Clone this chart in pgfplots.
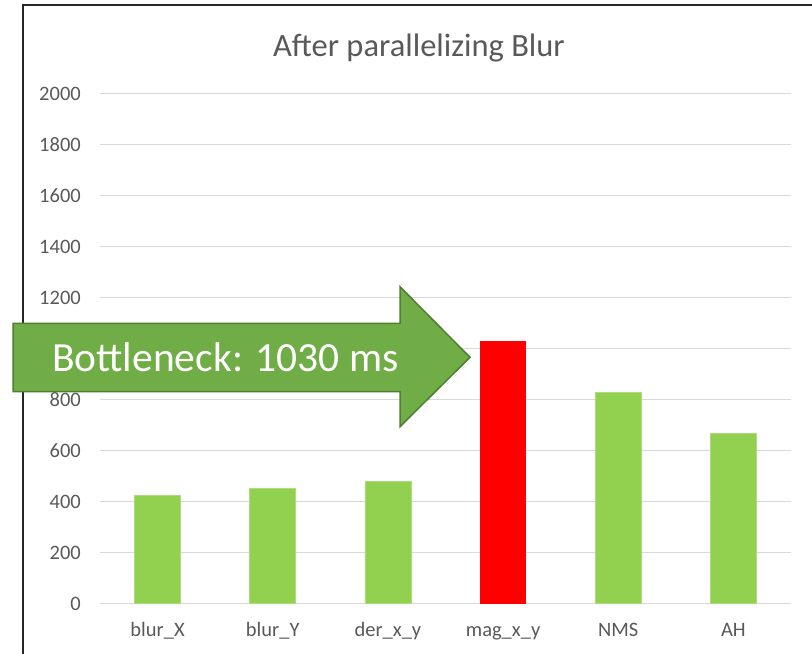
\documentclass[border=0pt]{standalone}
\usepackage{pgfplots}
\pgfplotsset{compat=1.18}
\usepackage{fontspec}
\setmainfont{Carlito}
\definecolor{barg}{HTML}{92D050}
\definecolor{barr}{HTML}{FF0000}
\definecolor{txt}{HTML}{595959}
\definecolor{gridc}{HTML}{D9D9D9}
\definecolor{arrf}{HTML}{70AD47}
\definecolor{arrd}{HTML}{507E32}
\begin{document}
\begin{tikzpicture}
\clip (0,0) rectangle (812bp,-654bp);
\fill[white] (0,0) rectangle (812bp,-654bp);
\draw[line width=1.5bp, black!85] (23bp,-680bp) -- (23bp,-5bp) -- (840bp,-5bp);
\begin{axis}[
  at={(100bp,-603.5bp)}, anchor=south west,
  scale only axis, width=691bp, height=510bp,
  xmin=-0.5, xmax=5.5, ymin=0, ymax=2000,
  ytick={0,200,...,2000},
  xtick={0,1,2,3,4,5},
  xticklabels={blur\_X, blur\_Y, der\_x\_y, mag\_x\_y, NMS, AH},
  axis line style={draw=none},
  major tick length=0pt,
  ymajorgrids, grid style={gridc, line width=1.2bp},
  tick label style={font=\fontsize{20.5bp}{24bp}\selectfont, text=txt},
  yticklabel style={anchor=east, inner sep=0pt, xshift=-19bp},
  xticklabel style={anchor=base, inner sep=0pt, yshift=-33bp},
  /pgf/number format/assume math mode=true,
  /pgf/number format/1000 sep={},
  clip=false,
]
\addplot[ybar, bar width=46bp, bar shift=0pt, fill=barg, draw=barg!75!white, line width=0.8bp] coordinates {(0,425) (1,452) (2,478) (4,828) (5,667)};
\addplot[ybar, bar width=46bp, bar shift=0pt, fill=barr, draw=none] coordinates {(3,1030)};
\end{axis}
\node[anchor=base, inner sep=0pt, font=\fontsize{32.5bp}{38bp}\selectfont, text=txt] at (419bp,-56bp) {After parallelizing Blur};
\draw[fill=arrf, draw=arrd, line width=1.5bp, line join=miter] (13bp,-323.3bp) -- (400bp,-323.3bp) -- (400bp,-286.7bp) -- (470bp,-357.3bp) -- (400bp,-426.7bp) -- (400bp,-391.7bp) -- (13bp,-391.7bp) -- cycle;
\node[anchor=base west, inner sep=0pt, text=white, font=\fontsize{41.5bp}{48bp}\selectfont] at (52bp,-371bp) {Bottleneck: 1030 ms};
\end{tikzpicture}
\end{document}
